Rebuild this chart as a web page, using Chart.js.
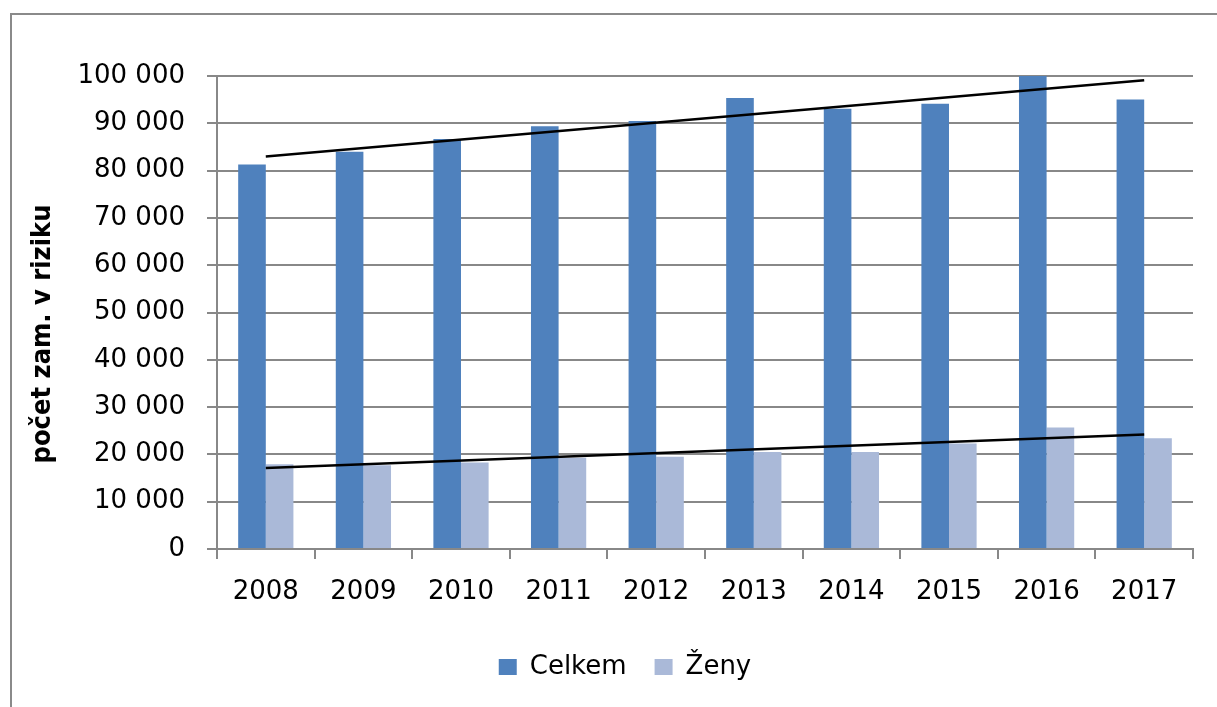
<!DOCTYPE html>
<html>
<head>
<meta charset="utf-8">
<script src="https://cdn.jsdelivr.net/npm/chart.js@4/dist/chart.umd.min.js"></script>
<style>
  html, body { margin: 0; padding: 0; background: #fff; overflow: hidden; }
  #frame { position: absolute; left: 10px; top: 13px; width: 1300px; height: 800px; border: 2px solid #8a8a8a; }
  #wrap { position: absolute; left: 0; top: 0; }
</style>
</head>
<body>
<div id="frame"></div>
<div id="wrap"><canvas id="chart" width="1250" height="707"></canvas></div>
<script>
const years = ["2008", "2009", "2010", "2011", "2012", "2013", "2014", "2015", "2016", "2017"];
const celkem = [81300, 84000, 86700, 89400, 90500, 95350, 93100, 94150, 100000, 95050];
const zeny = [17900, 17700, 18300, 19300, 19500, 20500, 20500, 22300, 25700, 23400];
// trend lines, ends
const trendCelkem = [83000, null, null, null, null, null, null, null, null, 99100];
const trendZeny = [17100, null, null, null, null, null, null, null, null, 24200];

const yTitle = "počet zam. v riziku";
const FONT = "'DejaVu Sans', sans-serif";
const GRID = "#888888";

const fmt = (v) => String(v).replace(/\B(?=(\d{3})+(?!\d))/g, " ");

// y title drawn by hand so it sits where the original has it
const yTitlePlugin = {
  id: "yTitle",
  afterDraw(chart) {
    const ctx = chart.ctx;
    ctx.save();
    ctx.translate(43, 334);
    ctx.rotate(-Math.PI / 2);
    ctx.font = "bold 27px 'DejaVu Sans Condensed', 'DejaVu Sans', sans-serif";
    ctx.fillStyle = "#000";
    ctx.textAlign = "center";
    ctx.textBaseline = "middle";
    ctx.fillText(yTitle, 0, 0);
    ctx.restore();
  },
};

new Chart(document.getElementById("chart"), {
  type: "bar",
  data: {
    labels: years,
    datasets: [
      { label: "Celkem", data: celkem, backgroundColor: "#4f81bd", order: 2 },
      { label: "Ženy", data: zeny, backgroundColor: "#aab9d8", order: 2 },
      {
        type: "line", label: "trend Celkem", data: trendCelkem, spanGaps: true,
        borderColor: "#000", borderWidth: 2.5, pointRadius: 0, order: 1,
      },
      {
        type: "line", label: "trend Ženy", data: trendZeny, spanGaps: true,
        borderColor: "#000", borderWidth: 2.5, pointRadius: 0, order: 1,
      },
    ],
  },
  options: {
    responsive: false,
    animation: false,
    categoryPercentage: 0.566,
    barPercentage: 1,
    layout: { padding: { top: 76, right: 57, left: 57, bottom: 17 } },
    plugins: {
      tooltip: { enabled: false },
      legend: {
        position: "bottom",
        labels: {
          filter: (item) => item.datasetIndex < 2,
          boxWidth: 18,
          boxHeight: 16,
          padding: 28,
          color: "#000",
          font: { family: FONT, size: 26 },
        },
      },
    },
    scales: {
      x: {
        offset: true,
        afterFit: (s) => { s.height = 77; },
        grid: { offset: true, drawOnChartArea: false, drawTicks: true, tickLength: 10, color: GRID, lineWidth: 2 },
        border: { color: GRID, width: 2 },
        ticks: { color: "#000", padding: 18, font: { family: FONT, size: 26 } },
      },
      y: {
        min: 0,
        max: 100000,
        afterFit: (s) => { s.width = 160; },
        grid: { color: GRID, lineWidth: 2, tickLength: 10 },
        border: { color: GRID, width: 2 },
        ticks: { stepSize: 10000, color: "#000", padding: 22, font: { family: FONT, size: 26 }, callback: (v) => fmt(v) },
      },
    },
  },
  plugins: [yTitlePlugin],
});
</script>
</body>
</html>
